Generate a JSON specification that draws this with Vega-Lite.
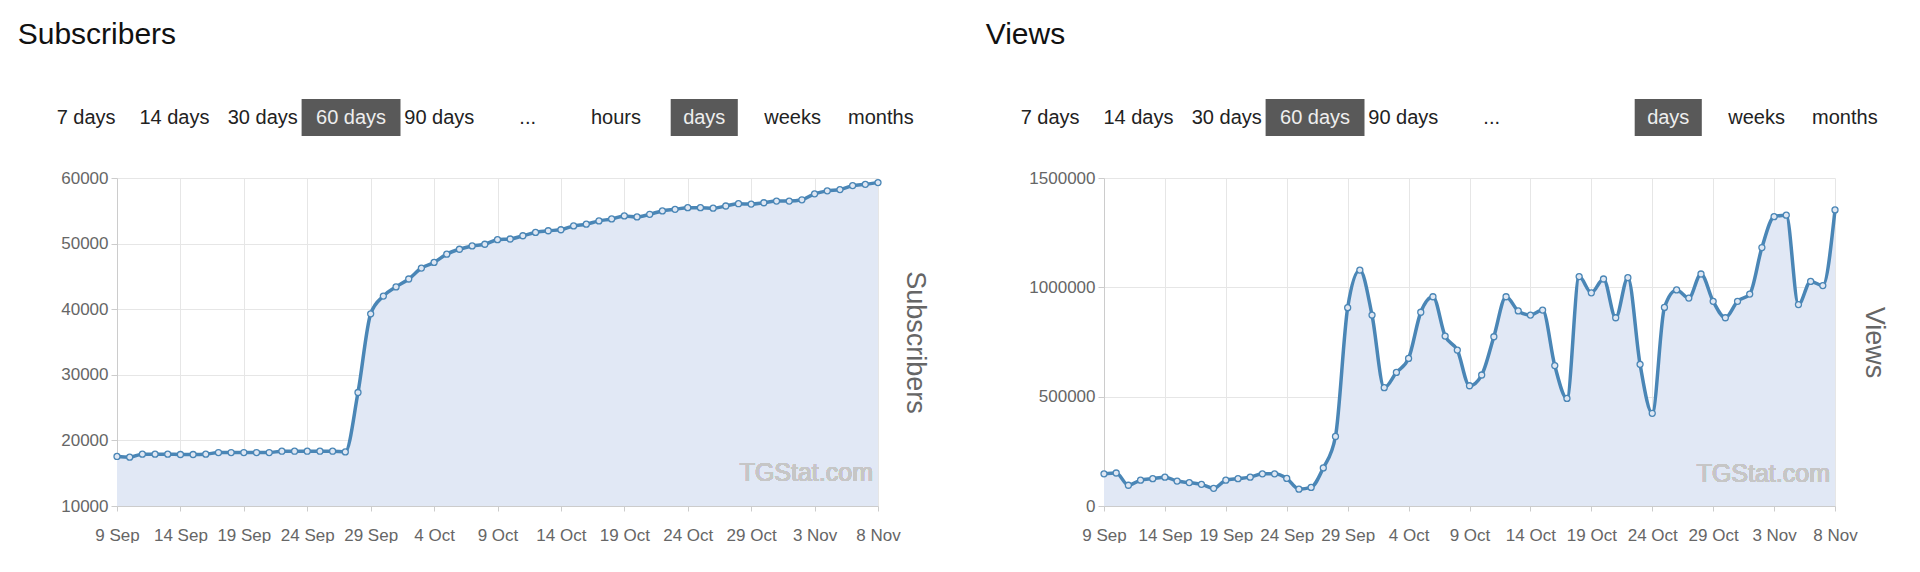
{
  "$schema": "https://vega.github.io/schema/vega-lite/v6.json",
  "background": "white",
  "padding": {"left": 17, "top": 20, "right": 0, "bottom": 0},
  "config": {
    "font": "Liberation Sans",
    "view": {"stroke": null},
    "axis": {"labelFont": "Liberation Sans", "labelFontSize": 17, "labelColor": "#666666", "gridColor": "#e6e6e6", "gridWidth": 1, "domainColor": "#cccccc", "tickColor": "#cccccc", "titleFont": "Liberation Sans"},
    "title": {"font": "Liberation Sans", "fontWeight": "normal", "color": "#111111", "fontSize": 30, "anchor": "start"}
  },
  "datasets": {
    "buttonsLeft": [
      {"button": "7 days", "selected": false},
      {"button": "14 days", "selected": false},
      {"button": "30 days", "selected": false},
      {"button": "60 days", "selected": true},
      {"button": "90 days", "selected": false},
      {"button": "...", "selected": false},
      {"button": "hours", "selected": false},
      {"button": "days", "selected": true},
      {"button": "weeks", "selected": false},
      {"button": "months", "selected": false}
    ],
    "buttonsRight": [
      {"button": "7 days", "selected": false},
      {"button": "14 days", "selected": false},
      {"button": "30 days", "selected": false},
      {"button": "60 days", "selected": true},
      {"button": "90 days", "selected": false},
      {"button": "...", "selected": false},
      {"button": "days", "selected": true},
      {"button": "weeks", "selected": false},
      {"button": "months", "selected": false}
    ],
    "series": [
      {"date": "2021-09-09", "subscribers": 17550, "views": 147000},
      {"date": "2021-09-10", "subscribers": 17450, "views": 151000},
      {"date": "2021-09-11", "subscribers": 17900, "views": 95000},
      {"date": "2021-09-12", "subscribers": 17900, "views": 118000},
      {"date": "2021-09-13", "subscribers": 17900, "views": 125000},
      {"date": "2021-09-14", "subscribers": 17850, "views": 132000},
      {"date": "2021-09-15", "subscribers": 17850, "views": 114000},
      {"date": "2021-09-16", "subscribers": 17900, "views": 107000},
      {"date": "2021-09-17", "subscribers": 18150, "views": 99000},
      {"date": "2021-09-18", "subscribers": 18150, "views": 81000},
      {"date": "2021-09-19", "subscribers": 18150, "views": 118000},
      {"date": "2021-09-20", "subscribers": 18150, "views": 125000},
      {"date": "2021-09-21", "subscribers": 18150, "views": 132000},
      {"date": "2021-09-22", "subscribers": 18350, "views": 147000},
      {"date": "2021-09-23", "subscribers": 18350, "views": 147000},
      {"date": "2021-09-24", "subscribers": 18350, "views": 126000},
      {"date": "2021-09-25", "subscribers": 18350, "views": 77000},
      {"date": "2021-09-26", "subscribers": 18350, "views": 85000},
      {"date": "2021-09-27", "subscribers": 18250, "views": 174000},
      {"date": "2021-09-28", "subscribers": 27300, "views": 318000},
      {"date": "2021-09-29", "subscribers": 39300, "views": 907000},
      {"date": "2021-09-30", "subscribers": 42000, "views": 1079000},
      {"date": "2021-10-01", "subscribers": 43400, "views": 873000},
      {"date": "2021-10-02", "subscribers": 44600, "views": 541000},
      {"date": "2021-10-03", "subscribers": 46270, "views": 611000},
      {"date": "2021-10-04", "subscribers": 47130, "views": 675000},
      {"date": "2021-10-05", "subscribers": 48390, "views": 886000},
      {"date": "2021-10-06", "subscribers": 49140, "views": 957000},
      {"date": "2021-10-07", "subscribers": 49640, "views": 777000},
      {"date": "2021-10-08", "subscribers": 49900, "views": 713000},
      {"date": "2021-10-09", "subscribers": 50600, "views": 550000},
      {"date": "2021-10-10", "subscribers": 50700, "views": 599000},
      {"date": "2021-10-11", "subscribers": 51200, "views": 774000},
      {"date": "2021-10-12", "subscribers": 51700, "views": 957000},
      {"date": "2021-10-13", "subscribers": 51960, "views": 892000},
      {"date": "2021-10-14", "subscribers": 52110, "views": 873000},
      {"date": "2021-10-15", "subscribers": 52700, "views": 896000},
      {"date": "2021-10-16", "subscribers": 52960, "views": 642000},
      {"date": "2021-10-17", "subscribers": 53460, "views": 492000},
      {"date": "2021-10-18", "subscribers": 53760, "views": 1049000},
      {"date": "2021-10-19", "subscribers": 54220, "views": 975000},
      {"date": "2021-10-20", "subscribers": 54070, "views": 1038000},
      {"date": "2021-10-21", "subscribers": 54470, "views": 861000},
      {"date": "2021-10-22", "subscribers": 54980, "views": 1044000},
      {"date": "2021-10-23", "subscribers": 55220, "views": 648000},
      {"date": "2021-10-24", "subscribers": 55480, "views": 424000},
      {"date": "2021-10-25", "subscribers": 55480, "views": 908000},
      {"date": "2021-10-26", "subscribers": 55400, "views": 988000},
      {"date": "2021-10-27", "subscribers": 55730, "views": 951000},
      {"date": "2021-10-28", "subscribers": 56080, "views": 1061000},
      {"date": "2021-10-29", "subscribers": 56030, "views": 936000},
      {"date": "2021-10-30", "subscribers": 56230, "views": 861000},
      {"date": "2021-10-31", "subscribers": 56480, "views": 936000},
      {"date": "2021-11-01", "subscribers": 56480, "views": 969000},
      {"date": "2021-11-02", "subscribers": 56680, "views": 1182000},
      {"date": "2021-11-03", "subscribers": 57590, "views": 1323000},
      {"date": "2021-11-04", "subscribers": 58040, "views": 1330000},
      {"date": "2021-11-05", "subscribers": 58240, "views": 921000},
      {"date": "2021-11-06", "subscribers": 58840, "views": 1027000},
      {"date": "2021-11-07", "subscribers": 59040, "views": 1008000},
      {"date": "2021-11-08", "subscribers": 59300, "views": 1354000}
    ]
  },
  "vconcat": [
    {
      "hconcat": [
        {
          "title": {"text": "Subscribers", "dx": -39, "offset": 49},
          "width": 883,
          "height": 37,
          "data": {"name": "buttonsLeft"},
          "encoding": {
            "x": {"field": "button", "type": "nominal", "sort": null, "axis": null,
                  "scale": {"domain": ["7 days", "14 days", "30 days", "60 days", "90 days", "...", "hours", "days", "weeks", "months"], "paddingInner": 0, "paddingOuter": 0}}
          },
          "layer": [
            {"transform": [{"filter": "datum.button === '60 days'"}], "mark": {"type": "bar", "color": "#595959", "width": {"band": 1.12}, "xOffset": -75}},
            {"transform": [{"filter": "datum.button === 'days'"}], "mark": {"type": "bar", "color": "#595959", "width": {"band": 0.76}, "xOffset": -75}},
            {"mark": {"type": "text", "fontSize": 20, "font": "Liberation Sans", "xOffset": -75},
             "encoding": {"text": {"field": "button"}, "color": {"condition": {"test": "datum.selected", "value": "#eeeeee"}, "value": "#222222"}}}
          ]
        },
        {
          "title": {"text": "Views", "dx": -35, "offset": 49},
          "width": 883,
          "height": 37,
          "data": {"name": "buttonsRight"},
          "encoding": {
            "x": {"field": "button", "type": "nominal", "sort": null, "axis": null,
                  "scale": {"domain": ["7 days", "14 days", "30 days", "60 days", "90 days", "...", "hours", "days", "weeks", "months"], "paddingInner": 0, "paddingOuter": 0}}
          },
          "layer": [
            {"transform": [{"filter": "datum.button === '60 days'"}], "mark": {"type": "bar", "color": "#595959", "width": {"band": 1.12}, "xOffset": -97}},
            {"transform": [{"filter": "datum.button === 'days'"}], "mark": {"type": "bar", "color": "#595959", "width": {"band": 0.76}, "xOffset": -97}},
            {"mark": {"type": "text", "fontSize": 20, "font": "Liberation Sans", "xOffset": -97},
             "encoding": {"text": {"field": "button"}, "color": {"condition": {"test": "datum.selected", "value": "#eeeeee"}, "value": "#222222"}}}
          ]
        }
      ],
      "bounds": "flush",
      "spacing": 103
    },
    {
      "hconcat": [
        {
          "width": 761,
          "height": 328,
          "data": {"name": "series"},
          "encoding": {
            "x": {"field": "date", "type": "temporal",
                  "scale": {"type": "utc", "domain": [{"year": 2021, "month": 9, "date": 9, "utc": true}, {"year": 2021, "month": 11, "date": 8, "utc": true}]},
                  "axis": {"title": null, "labelExpr": "utcFormat(datum.value, '%-d %b')", "grid": true, "tickSize": 5, "labelPadding": 16, "labelFlush": false, "labelOverlap": false,
                           "values": [{"year": 2021, "month": 9, "date": 9, "utc": true}, {"year": 2021, "month": 9, "date": 14, "utc": true}, {"year": 2021, "month": 9, "date": 19, "utc": true}, {"year": 2021, "month": 9, "date": 24, "utc": true}, {"year": 2021, "month": 9, "date": 29, "utc": true}, {"year": 2021, "month": 10, "date": 4, "utc": true}, {"year": 2021, "month": 10, "date": 9, "utc": true}, {"year": 2021, "month": 10, "date": 14, "utc": true}, {"year": 2021, "month": 10, "date": 19, "utc": true}, {"year": 2021, "month": 10, "date": 24, "utc": true}, {"year": 2021, "month": 10, "date": 29, "utc": true}, {"year": 2021, "month": 11, "date": 3, "utc": true}, {"year": 2021, "month": 11, "date": 8, "utc": true}]}}
          },
          "layer": [
            {
              "mark": {"type": "area", "interpolate": "monotone", "color": "#e1e8f5", "clip": true},
              "encoding": {
                "y": {"field": "subscribers", "type": "quantitative",
                      "scale": {"domain": [10000, 60000], "nice": false, "zero": false},
                      "axis": {"orient": "left", "title": null, "values": [10000, 20000, 30000, 40000, 50000, 60000], "format": "d", "minExtent": 99, "labelPadding": 3, "tickSize": 6, "grid": true}}
              }
            },
            {
              "mark": {"type": "line", "interpolate": "monotone", "color": "#4a86b6", "strokeWidth": 3.5},
              "encoding": {
                "y": {"field": "subscribers", "type": "quantitative",
                      "axis": {"orient": "right", "title": "Subscribers", "labels": false, "ticks": false, "domain": false, "grid": false, "minExtent": 0, "titlePadding": 22, "titleFontSize": 27, "titleColor": "#666666", "titleFontWeight": "normal"}}
              }
            },
            {
              "mark": {"type": "point", "filled": true, "size": 36, "fill": "#dfe7f3", "stroke": "#4a86b6", "strokeWidth": 1.3, "opacity": 1},
              "encoding": {
                "y": {"field": "subscribers", "type": "quantitative", "axis": null}
              }
            },
            {
              "mark": {"type": "text", "text": "TGStat.com", "align": "right", "baseline": "alphabetic", "fontSize": 25, "color": "#c6c6c6", "dx": -5, "dy": -25},
              "encoding": {
                "x": {"datum": {"year": 2021, "month": 11, "date": 8, "utc": true}, "type": "temporal",
                      "axis": {"title": null, "labelExpr": "utcFormat(datum.value, '%-d %b')", "grid": true, "tickSize": 5, "labelPadding": 16, "labelFlush": false, "labelOverlap": false,
                               "values": [{"year": 2021, "month": 9, "date": 9, "utc": true}, {"year": 2021, "month": 9, "date": 14, "utc": true}, {"year": 2021, "month": 9, "date": 19, "utc": true}, {"year": 2021, "month": 9, "date": 24, "utc": true}, {"year": 2021, "month": 9, "date": 29, "utc": true}, {"year": 2021, "month": 10, "date": 4, "utc": true}, {"year": 2021, "month": 10, "date": 9, "utc": true}, {"year": 2021, "month": 10, "date": 14, "utc": true}, {"year": 2021, "month": 10, "date": 19, "utc": true}, {"year": 2021, "month": 10, "date": 24, "utc": true}, {"year": 2021, "month": 10, "date": 29, "utc": true}, {"year": 2021, "month": 11, "date": 3, "utc": true}, {"year": 2021, "month": 11, "date": 8, "utc": true}]}},
                "y": {"datum": 10000, "type": "quantitative", "axis": null}
              }
            }
          ],
          "resolve": {"axis": {"y": "independent"}}
        },
        {
          "width": 731,
          "height": 328,
          "data": {"name": "series"},
          "encoding": {
            "x": {"field": "date", "type": "temporal",
                  "scale": {"type": "utc", "domain": [{"year": 2021, "month": 9, "date": 9, "utc": true}, {"year": 2021, "month": 11, "date": 8, "utc": true}]},
                  "axis": {"title": null, "labelExpr": "utcFormat(datum.value, '%-d %b')", "grid": true, "tickSize": 5, "labelPadding": 16, "labelFlush": false, "labelOverlap": false,
                           "values": [{"year": 2021, "month": 9, "date": 9, "utc": true}, {"year": 2021, "month": 9, "date": 14, "utc": true}, {"year": 2021, "month": 9, "date": 19, "utc": true}, {"year": 2021, "month": 9, "date": 24, "utc": true}, {"year": 2021, "month": 9, "date": 29, "utc": true}, {"year": 2021, "month": 10, "date": 4, "utc": true}, {"year": 2021, "month": 10, "date": 9, "utc": true}, {"year": 2021, "month": 10, "date": 14, "utc": true}, {"year": 2021, "month": 10, "date": 19, "utc": true}, {"year": 2021, "month": 10, "date": 24, "utc": true}, {"year": 2021, "month": 10, "date": 29, "utc": true}, {"year": 2021, "month": 11, "date": 3, "utc": true}, {"year": 2021, "month": 11, "date": 8, "utc": true}]}}
          },
          "layer": [
            {
              "mark": {"type": "area", "interpolate": "monotone", "color": "#e1e8f5", "clip": true},
              "encoding": {
                "y": {"field": "views", "type": "quantitative",
                      "scale": {"domain": [0, 1500000], "nice": false},
                      "axis": {"orient": "left", "title": null, "values": [0, 500000, 1000000, 1500000], "format": "d", "minExtent": 117, "labelPadding": 3, "tickSize": 6, "grid": true}}
              }
            },
            {
              "mark": {"type": "line", "interpolate": "monotone", "color": "#4a86b6", "strokeWidth": 3.5},
              "encoding": {
                "y": {"field": "views", "type": "quantitative",
                      "axis": {"orient": "right", "title": "Views", "labels": false, "ticks": false, "domain": false, "grid": false, "minExtent": 0, "titlePadding": 24, "titleFontSize": 27, "titleColor": "#666666", "titleFontWeight": "normal"}}
              }
            },
            {
              "mark": {"type": "point", "filled": true, "size": 36, "fill": "#dfe7f3", "stroke": "#4a86b6", "strokeWidth": 1.3, "opacity": 1},
              "encoding": {
                "y": {"field": "views", "type": "quantitative", "axis": null}
              }
            },
            {
              "mark": {"type": "text", "text": "TGStat.com", "align": "right", "baseline": "alphabetic", "fontSize": 25, "color": "#c6c6c6", "dx": -5, "dy": -24},
              "encoding": {
                "x": {"datum": {"year": 2021, "month": 11, "date": 8, "utc": true}, "type": "temporal",
                      "axis": {"title": null, "labelExpr": "utcFormat(datum.value, '%-d %b')", "grid": true, "tickSize": 5, "labelPadding": 16, "labelFlush": false, "labelOverlap": false,
                               "values": [{"year": 2021, "month": 9, "date": 9, "utc": true}, {"year": 2021, "month": 9, "date": 14, "utc": true}, {"year": 2021, "month": 9, "date": 19, "utc": true}, {"year": 2021, "month": 9, "date": 24, "utc": true}, {"year": 2021, "month": 9, "date": 29, "utc": true}, {"year": 2021, "month": 10, "date": 4, "utc": true}, {"year": 2021, "month": 10, "date": 9, "utc": true}, {"year": 2021, "month": 10, "date": 14, "utc": true}, {"year": 2021, "month": 10, "date": 19, "utc": true}, {"year": 2021, "month": 10, "date": 24, "utc": true}, {"year": 2021, "month": 10, "date": 29, "utc": true}, {"year": 2021, "month": 11, "date": 3, "utc": true}, {"year": 2021, "month": 11, "date": 8, "utc": true}]}},
                "y": {"datum": 0, "type": "quantitative", "axis": null}
              }
            }
          ],
          "resolve": {"axis": {"y": "independent"}}
        }
      ],
      "spacing": 59
    }
  ],
  "spacing": 33
}
